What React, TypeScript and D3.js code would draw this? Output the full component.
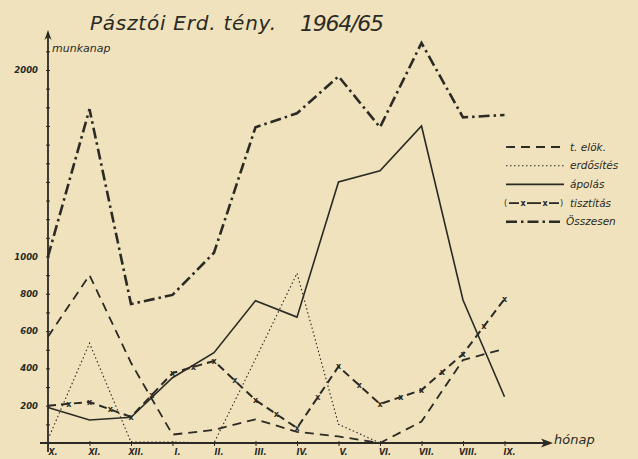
import { axisBottom, axisLeft, line, scaleLinear, scalePoint, select } from 'd3';
import React, { useEffect, useRef } from 'react';

const months = ['X.', 'XI.', 'XII.', 'I.', 'II.', 'III.', 'IV.', 'V.', 'VI.', 'VII.', 'VIII.', 'IX.'];

// munkanap per month
const telok = [570, 900, 430, 45, 70, 127, 60, 35, 0, 115, 445, 505];
const erdosites = [20, 535, 5, 5, 0, 450, 910, 100, 0, null, null, null];
const apolas = [190, 123, 138, 350, 484, 763, 675, 1400, 1460, 1700, 767, 248];
const tisztitas = [200, 220, 140, 375, 440, 230, 80, 410, 209, 284, 477, 772];
const osszesen = [1000, 1790, 745, 794, 1020, 1693, 1768, 1966, 1693, 2145, 1746, 1759];

const yLabels = [200, 400, 600, 800, 1000, 2000];
const yMinor = [100, 200, 300, 400, 500, 600, 700, 800, 900, 1000, 1100, 1200, 1300, 1400, 1500, 1600, 1700, 1800, 1900, 2000, 2100];

const legendNames = ['t. elök.', 'erdősítés', 'ápolás', 'tisztítás', 'Összesen'];

const INK = '#2b2a24';
const FONT = '"DejaVu Sans", sans-serif';

const styles = [
  { width: 1.8, dash: '9,6' },
  { width: 1.1, dash: '1.5,2.5' },
  { width: 1.6, dash: null },
  { width: 2, dash: '8,5' },
  { width: 2.6, dash: '11,4,2.5,4' },
];

function App() {
  const svgRef = useRef(null);

  useEffect(() => {
    const svg = select(svgRef.current);
    svg.selectAll('*').remove();

    const x = scalePoint().domain(months).range([48, 504.5]);
    const y = scaleLinear().domain([0, 2000]).range([443, 70]);

    svg.append('rect').attr('width', 638).attr('height', 459).attr('fill', '#efe2bd');

    // title
    svg
      .append('text')
      .attr('x', 90)
      .attr('y', 30)
      .attr('textLength', 186)
      .attr('font-family', FONT)
      .attr('font-style', 'italic')
      .attr('font-size', 20)
      .attr('fill', INK)
      .text('Pásztói Erd. tény.');
    svg
      .append('text')
      .attr('x', 300)
      .attr('y', 31)
      .attr('textLength', 84)
      .attr('font-family', FONT)
      .attr('font-style', 'italic')
      .attr('font-size', 22)
      .attr('fill', INK)
      .text('1964/65');

    // y axis
    const yAxis = axisLeft(y).tickValues(yMinor).tickSize(3).tickFormat(() => '');
    const gy = svg.append('g').attr('transform', 'translate(48,0)').call(yAxis);
    gy.select('.domain').remove();
    gy.selectAll('line').attr('x2', 2).attr('x1', -2).attr('stroke', INK);
    svg.append('line').attr('x1', 48).attr('x2', 48).attr('y1', 452).attr('y2', 34).attr('stroke', INK).attr('stroke-width', 1.8);
    svg.append('path').attr('d', 'M48,30 L44.5,40 L48,37 L51.5,40 Z').attr('fill', INK);

    svg
      .append('g')
      .selectAll('text')
      .data(yLabels)
      .join('text')
      .attr('x', 38)
      .attr('y', d => y(d) + 3)
      .attr('text-anchor', 'end')
      .attr('font-family', FONT)
      .attr('font-style', 'italic')
      .attr('font-weight', 'bold')
      .attr('font-size', 8.5)
      .attr('fill', INK)
      .text(d => d);

    svg
      .append('text')
      .attr('x', 52)
      .attr('y', 52)
      .attr('font-family', FONT)
      .attr('font-style', 'italic')
      .attr('font-size', 11)
      .attr('fill', INK)
      .text('munkanap');

    // x axis
    const xAxis = axisBottom(x).tickSize(4).tickFormat(() => '');
    const gx = svg.append('g').attr('transform', 'translate(0,443)').call(xAxis);
    gx.select('.domain').remove();
    gx.selectAll('line').attr('y1', -2).attr('y2', 3).attr('stroke', INK);
    svg.append('line').attr('x1', 40).attr('x2', 546).attr('y1', 443).attr('y2', 443).attr('stroke', INK).attr('stroke-width', 1.8);
    svg.append('path').attr('d', 'M553,443 L541,438.5 L544,443 L541,447.5 Z').attr('fill', INK);

    svg
      .append('g')
      .selectAll('text')
      .data(months)
      .join('text')
      .attr('x', d => x(d) + 5)
      .attr('y', 455)
      .attr('text-anchor', 'middle')
      .attr('font-family', FONT)
      .attr('font-style', 'italic')
      .attr('font-weight', 'bold')
      .attr('font-size', 8)
      .attr('fill', INK)
      .text(d => d);

    svg
      .append('text')
      .attr('x', 554)
      .attr('y', 444)
      .attr('font-family', FONT)
      .attr('font-style', 'italic')
      .attr('font-size', 13)
      .attr('fill', INK)
      .text('hónap');

    // series
    const series = [telok, erdosites, apolas, tisztitas, osszesen];
    const lineGen = line()
      .defined(d => d != null)
      .x((d, i) => x(months[i]))
      .y(d => y(d));

    series.forEach((s, k) => {
      svg
        .append('path')
        .datum(s)
        .attr('d', lineGen)
        .attr('fill', 'none')
        .attr('stroke', INK)
        .attr('stroke-width', styles[k].width)
        .attr('stroke-dasharray', styles[k].dash)
        .attr('stroke-linejoin', 'miter');
    });

    // x marks on tisztitas: at points and midpoints
    const marks = [];
    tisztitas.forEach((v, i) => {
      marks.push([x(months[i]), y(v)]);
      if (i < tisztitas.length - 1) {
        marks.push([(x(months[i]) + x(months[i + 1])) / 2, (y(v) + y(tisztitas[i + 1])) / 2]);
      }
    });
    svg
      .append('g')
      .selectAll('text')
      .data(marks.slice(1))
      .join('text')
      .attr('x', d => d[0])
      .attr('y', d => d[1] + 2.8)
      .attr('text-anchor', 'middle')
      .attr('font-family', FONT)
      .attr('font-weight', 'bold')
      .attr('font-size', 8)
      .attr('fill', INK)
      .text('x');

    // legend
    const lg = svg.append('g');
    legendNames.forEach((name, k) => {
      const ly = 147 + k * 18.7;
      if (k !== 3) {
        lg.append('line')
          .attr('x1', 506)
          .attr('x2', 564)
          .attr('y1', ly)
          .attr('y2', ly)
          .attr('stroke', INK)
          .attr('stroke-width', styles[k].width)
          .attr('stroke-dasharray', styles[k].dash);
      }
      lg.append('text')
        .attr('x', k === 4 ? 566 : 570)
        .attr('y', ly + 3.5)
        .attr('font-family', FONT)
        .attr('font-style', 'italic')
        .attr('font-size', 10.5)
        .attr('fill', INK)
        .text(name);
    });
    const ty = 147 + 3 * 18.7;
    [[509, 519], [527, 541], [549, 559]].forEach(([a, b]) =>
      lg.append('line').attr('x1', a).attr('x2', b).attr('y1', ty).attr('y2', ty)
        .attr('stroke', INK).attr('stroke-width', 1.8));
    [523, 545].forEach(mx =>
      lg.append('text').attr('x', mx).attr('y', ty + 2.8).attr('text-anchor', 'middle')
        .attr('font-family', FONT).attr('font-weight', 'bold').attr('font-size', 8).attr('fill', INK).text('x'));
    lg.append('text').attr('x', 504).attr('y', ty + 3).attr('font-family', FONT).attr('font-size', 8).attr('fill', INK).text('(');
    lg.append('text').attr('x', 560).attr('y', ty + 3).attr('font-family', FONT).attr('font-size', 8).attr('fill', INK).text(')');
  }, []);

  return (
    <div style={{ position: 'absolute', left: 0, top: 0 }}>
      <svg ref={svgRef} width={638} height={459} style={{ display: 'block' }} />
    </div>
  );
}

export default App;
